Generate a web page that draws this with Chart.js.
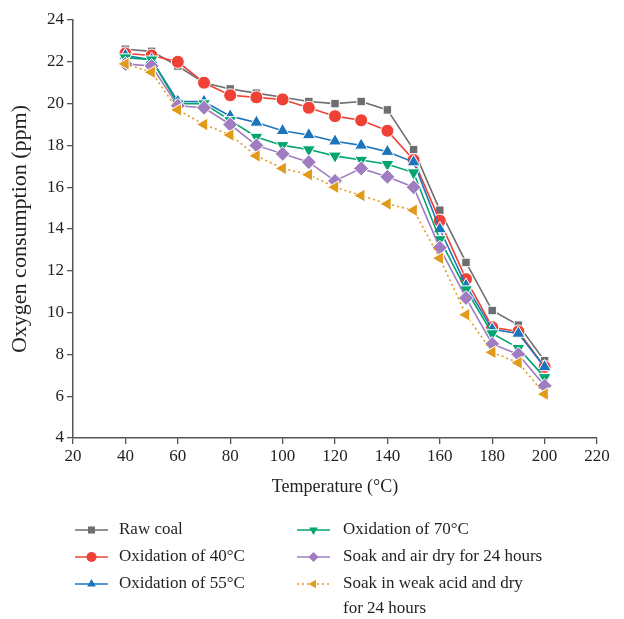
<!DOCTYPE html>
<html>
<head>
<meta charset="utf-8">
<script src="https://cdn.jsdelivr.net/npm/chart.js@4/dist/chart.umd.min.js"></script>
<style>
html, body { margin: 0; padding: 0; background: #fff; }
</style>
</head>
<body>
<canvas id="oxygen" width="624" height="619"></canvas>
<script>
// temperatures (°C) and oxygen consumption (ppm) for each sample
const temps = [40, 50, 60, 70, 80, 90, 100, 110, 120, 130, 140, 150, 160, 170, 180, 190, 200];
const rawCoal  = [22.6, 22.5, 21.8, 21.0, 20.7, 20.5, 20.3, 20.1, 20.0, 20.1, 19.7, 17.8, 14.9, 12.4, 10.1, 9.4, 7.7];
const ox40     = [22.4, 22.3, 22.0, 21.0, 20.4, 20.3, 20.2, 19.8, 19.4, 19.2, 18.7, 17.3, 14.4, 11.6, 9.3, 9.1, 7.4];
const ox55     = [22.3, 22.1, 20.1, 20.1, 19.4, 19.1, 18.7, 18.5, 18.2, 18.0, 17.7, 17.2, 14.0, 11.3, 9.2, 9.0, 7.4];
const ox70     = [22.2, 22.1, 20.0, 20.0, 19.2, 18.4, 18.0, 17.8, 17.5, 17.3, 17.1, 16.7, 13.5, 11.1, 9.0, 8.3, 6.9];
const soakAir  = [21.9, 21.8, 19.9, 19.8, 19.0, 18.0, 17.6, 17.2, 16.3, 16.9, 16.5, 16.0, 13.1, 10.7, 8.5, 8.0, 6.5];
const soakAcid = [21.9, 21.5, 19.7, 19.0, 18.5, 17.5, 16.9, 16.6, 16.0, 15.6, 15.2, 14.9, 12.6, 9.9, 8.1, 7.6, 6.1];

const labels = ['Raw coal', 'Oxidation of 40°C', 'Oxidation of 55°C', 'Oxidation of 70°C',
                'Soak and air dry for 24 hours', ['Soak in weak acid and dry', 'for 24 hours']];

const xTicks = [20, 40, 60, 80, 100, 120, 140, 160, 180, 200, 220];
const yTicks = [4, 6, 8, 10, 12, 14, 16, 18, 20, 22, 24];

const FONT = '"Liberation Serif", "DejaVu Serif", serif';
const INK = '#231f20';

const styles = [
  { color: '#6d6e71', shape: 'rect', rot: 0, r: 6 },
  { color: '#ef4136', shape: 'circle', rot: 0, r: 6.5 },
  { color: '#1c75bc', shape: 'triangle', rot: 0, r: 7.5 },
  { color: '#00a66e', shape: 'triangle', rot: 180, r: 7.5 },
  { color: '#a07cc0', shape: 'rectRot', rot: 0, r: 7.5 },
  { color: '#e09b1c', shape: 'triangle', rot: -90, r: 7.5 }
];

const series = [rawCoal, ox40, ox55, ox70, soakAir, soakAcid];

const datasets = series.map(function (vals, i) {
  const s = styles[i];
  return {
    label: Array.isArray(labels[i]) ? labels[i].join(' ') : labels[i],
    data: temps.map(function (t, j) { return { x: t, y: vals[j] }; }),
    borderColor: s.color,
    backgroundColor: s.color,
    borderWidth: 1.6,
    borderDash: i === 5 ? [2, 3] : [],
    pointStyle: s.shape,
    rotation: s.rot,
    pointRadius: s.r,
    pointBorderWidth: 1,
    pointBorderColor: '#fff',
    order: 6 - i,
    tension: 0
  };
});

// legend in two columns, drawn under the axes
const twoColLegend = {
  id: 'twoColLegend',
  afterDraw(chart) {
    const ctx = chart.ctx;
    const cols = [{ x0: 75, x1: 108, tx: 119 }, { x0: 297, x1: 330, tx: 343 }];
    const rows = [530, 557, 584];
    ctx.save();
    ctx.font = '17px ' + FONT;
    ctx.textBaseline = 'middle';
    ctx.textAlign = 'left';
    labels.forEach(function (lab, i) {
      const col = cols[Math.floor(i / 3)];
      const y = rows[i % 3];
      const s = styles[i];
      ctx.strokeStyle = s.color;
      ctx.fillStyle = s.color;
      ctx.lineWidth = 1.6;
      ctx.setLineDash(i === 5 ? [2, 3] : []);
      ctx.beginPath();
      ctx.moveTo(col.x0, y);
      ctx.lineTo(col.x1, y);
      ctx.stroke();
      ctx.setLineDash([]);
      Chart.helpers.drawPoint(ctx, { pointStyle: s.shape, rotation: s.rot, radius: 5, borderWidth: 0 },
        (col.x0 + col.x1) / 2, y);
      ctx.fillStyle = INK;
      const lines = Array.isArray(lab) ? lab : [lab];
      lines.forEach(function (ln, k) { ctx.fillText(ln, col.tx, y + k * 25); });
    });
    ctx.restore();
  }
};

const ctx = document.getElementById('oxygen').getContext('2d');
const chart = new Chart(ctx, {
  type: 'line',
  data: { datasets: datasets },
  options: {
    responsive: false,
    animation: false,
    layout: { padding: { top: 20, right: 27, bottom: 121, left: 7 } },
    plugins: { legend: { display: false }, tooltip: { enabled: false } },
    scales: {
      x: {
        type: 'linear',
        min: 20, max: 220,
        afterBuildTicks: function (scale) { scale.ticks = xTicks.map(function (v) { return { value: v }; }); },
        ticks: { color: INK, font: { family: FONT, size: 17 }, padding: 2, maxRotation: 0 },
        grid: { drawOnChartArea: false, drawTicks: true, tickLength: 6, color: '#555', lineWidth: 1.3 },
        border: { display: true, color: '#555', width: 1.5 },
        title: { display: true, text: 'Temperature (°C)', color: INK, font: { family: FONT, size: 18 }, padding: { top: 8, bottom: 0 } }
      },
      y: {
        min: 4, max: 24,
        afterBuildTicks: function (scale) { scale.ticks = yTicks.map(function (v) { return { value: v }; }); },
        afterFit: function (scale) { scale.width = 66; },
        ticks: { color: INK, font: { family: FONT, size: 17 }, padding: 3 },
        grid: { drawOnChartArea: false, drawTicks: true, tickLength: 6, color: '#555', lineWidth: 1.3 },
        border: { display: true, color: '#555', width: 1.5 },
        title: { display: true, text: 'Oxygen consumption (ppm)', color: INK, font: { family: FONT, size: 22 }, padding: { top: 0, bottom: 2 } }
      }
    }
  },
  plugins: [twoColLegend]
});
</script>
</body>
</html>
